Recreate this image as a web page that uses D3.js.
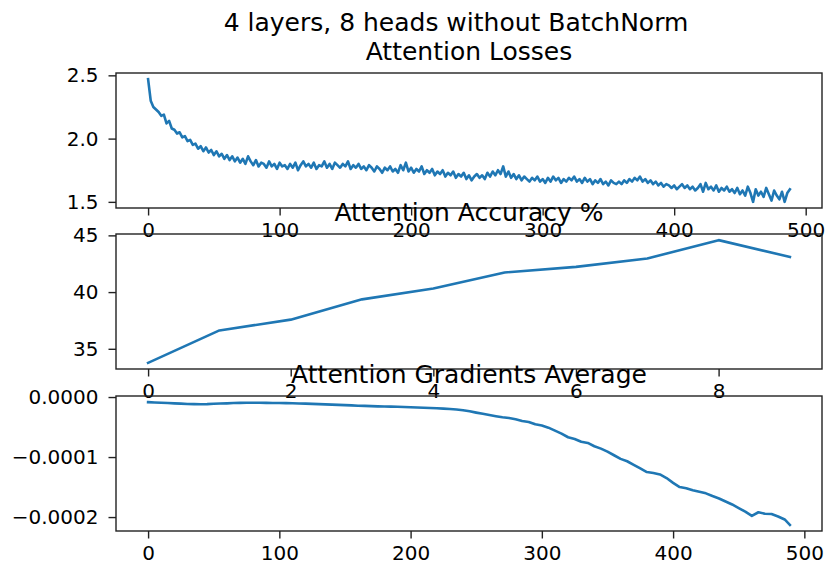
<!DOCTYPE html>
<html>
<head>
<meta charset="utf-8">
<script src="https://cdn.jsdelivr.net/npm/d3@7"></script>
<style>
  html, body { margin: 0; padding: 0; background: #fff; }
  svg text { font-family: "DejaVu Sans", sans-serif; fill: #000; }
</style>
</head>
<body>
<svg id="chart" width="825" height="567"></svg>
<script>
// ---------------- DATA ----------------
const suptitle = "4 layers, 8 heads without BatchNorm";
const panelTitles = ["Attention Losses", "Attention Accuracy %", "Attention Gradients Average"];

// Attention losses, read every 2 steps (step = index * 2)
const lossStep = 2;
const lossValues = [
  2.47, 2.30, 2.25, 2.23, 2.21, 2.18, 2.19, 2.12, 2.14, 2.08,
  2.07, 2.04, 2.05, 2.01, 2.02, 1.98, 1.99, 1.95, 1.96, 1.92,
  1.94, 1.90, 1.93, 1.89, 1.91, 1.87, 1.90, 1.86, 1.88, 1.84,
  1.87, 1.83, 1.86, 1.82, 1.85, 1.81, 1.84, 1.80, 1.86, 1.82,
  1.79, 1.83, 1.78, 1.81, 1.80, 1.77, 1.82, 1.78, 1.80, 1.76,
  1.81, 1.78, 1.79, 1.76, 1.80, 1.77, 1.81, 1.75, 1.79, 1.82,
  1.78, 1.80, 1.77, 1.81, 1.76, 1.79, 1.78, 1.82, 1.77, 1.80,
  1.76, 1.81, 1.79, 1.77, 1.80, 1.78, 1.82, 1.76, 1.79, 1.77,
  1.80, 1.76, 1.78, 1.75, 1.79, 1.77, 1.74, 1.78, 1.76, 1.73,
  1.77, 1.75, 1.78, 1.74, 1.76, 1.73, 1.79, 1.75, 1.81, 1.74,
  1.77, 1.73, 1.76, 1.74, 1.78, 1.72, 1.75, 1.73, 1.76, 1.71,
  1.74, 1.72, 1.75, 1.70, 1.73, 1.71, 1.74, 1.69, 1.72, 1.70,
  1.73, 1.68, 1.71, 1.67, 1.70, 1.72, 1.69, 1.71, 1.68, 1.73,
  1.70, 1.74, 1.71, 1.75, 1.72, 1.78, 1.70, 1.74, 1.69, 1.72,
  1.68, 1.71, 1.67, 1.70, 1.68, 1.66, 1.69, 1.67, 1.70, 1.66,
  1.68, 1.65, 1.69, 1.66, 1.70, 1.67, 1.69, 1.65, 1.68, 1.66,
  1.69, 1.67, 1.70, 1.66, 1.68, 1.65, 1.69, 1.66, 1.68, 1.64,
  1.67, 1.65, 1.68, 1.64, 1.66, 1.63, 1.67, 1.65, 1.64, 1.66,
  1.64, 1.67, 1.65, 1.68, 1.66, 1.69, 1.67, 1.70, 1.66, 1.68,
  1.65, 1.67, 1.64, 1.66, 1.63, 1.65, 1.62, 1.64, 1.63, 1.61,
  1.63, 1.60, 1.62, 1.64, 1.61, 1.63, 1.60, 1.62, 1.59, 1.61,
  1.64, 1.58, 1.65, 1.60, 1.62, 1.59, 1.63, 1.58, 1.61, 1.59,
  1.62, 1.58, 1.60, 1.57, 1.61, 1.56, 1.59, 1.55, 1.62, 1.57,
  1.50, 1.60, 1.55, 1.58, 1.54, 1.61, 1.56, 1.51, 1.59, 1.55,
  1.52, 1.58, 1.50, 1.57, 1.60
];

// Attention accuracy per epoch
const accEpochs = [0, 1, 2, 3, 4, 5, 6, 7, 8, 9];
const accValues = [33.76, 36.62, 37.57, 39.36, 40.31, 41.73, 42.22, 42.96, 44.58, 43.10];

// Attention gradients average
const gradSteps = [
  0, 5, 10, 15, 20, 25, 30, 35, 40, 45, 50, 55, 60, 65, 70, 75, 80, 85, 90, 95,
  100, 105, 110, 115, 120, 125, 130, 135, 140, 145, 150, 155, 160, 165, 170, 175, 180, 185, 190, 195,
  200, 205, 210, 215, 220, 225, 230, 235, 240, 245, 250, 255, 260, 265, 270, 275, 280, 285, 290, 295,
  300, 305, 310, 315, 320, 325, 330, 335, 340, 345, 350, 355, 360, 365, 370, 375, 380, 385, 390, 395,
  400, 405, 410, 415, 420, 425, 430, 435, 440, 445, 450, 455, 460, 465, 470, 475, 480, 485, 489
];
const gradValues = [
  -8.5e-6, -9.0e-6, -9.5e-6, -10.0e-6, -10.5e-6, -11.0e-6, -11.5e-6, -11.8e-6, -12.0e-6, -11.8e-6,
  -11.2e-6, -10.8e-6, -10.5e-6, -10.0e-6, -9.8e-6, -9.6e-6, -9.5e-6, -9.6e-6, -9.8e-6, -10.0e-6,
  -10.0e-6, -10.2e-6, -10.4e-6, -10.7e-6, -11.0e-6, -11.4e-6, -11.8e-6, -12.2e-6, -12.6e-6, -13.0e-6,
  -13.4e-6, -13.9e-6, -14.4e-6, -14.8e-6, -15.2e-6, -15.5e-6, -15.8e-6, -16.0e-6, -16.3e-6, -16.7e-6,
  -17.0e-6, -17.4e-6, -17.9e-6, -18.3e-6, -18.8e-6, -19.3e-6, -20.0e-6, -20.8e-6, -22.0e-6, -23.8e-6,
  -26.0e-6, -28.0e-6, -30.0e-6, -32.0e-6, -33.8e-6, -35.0e-6, -37.0e-6, -40.0e-6, -41.5e-6, -45.5e-6,
  -47.5e-6, -51.0e-6, -56.0e-6, -61.0e-6, -67.0e-6, -70.0e-6, -74.5e-6, -76.5e-6, -82.0e-6, -86.0e-6,
  -91.0e-6, -97.0e-6, -103.0e-6, -107.0e-6, -113.0e-6, -119.0e-6, -125.0e-6, -126.5e-6, -129.0e-6, -135.0e-6,
  -143.0e-6, -150.0e-6, -152.0e-6, -155.5e-6, -158.0e-6, -160.5e-6, -165.0e-6, -169.0e-6, -174.0e-6, -179.0e-6,
  -185.0e-6, -191.0e-6, -198.0e-6, -192.0e-6, -194.5e-6, -195.0e-6, -199.0e-6, -204.0e-6, -213.0e-6
];

// Tick values
const lossXTicks = [0, 100, 200, 300, 400, 500];
const lossYTicks = [1.5, 2.0, 2.5];
const accXTicks = [0, 2, 4, 6, 8];
const accYTicks = [35, 40, 45];
const gradXTicks = [0, 100, 200, 300, 400, 500];
const gradYTicks = [-0.0002, -0.0001, 0.0000];

// ---------------- LAYOUT ----------------
const svg = d3.select("#chart");
const left = 116, right = 822;
const W = right - left;
const H = 135;
const tops = [73, 234, 396];
const color = "#1f77b4";
const tickFont = 20;
const titleFont = 25;

function padded(ext) {
  const m = (ext[1] - ext[0]) * 0.05;
  return [ext[0] - m, ext[1] + m];
}

function panel(idx, xs, ys, xTicks, yTicks, yFmt) {
  const g = svg.append("g").attr("transform", `translate(${left},${tops[idx]})`);
  const x = d3.scaleLinear().domain(padded(d3.extent(xs))).range([0, W]);
  const y = d3.scaleLinear().domain(padded(d3.extent(ys))).range([H, 0]);

  const line = d3.line().x(d => x(d[0])).y(d => y(d[1]));
  g.append("path")
    .datum(xs.map((v, i) => [v, ys[i]]))
    .attr("d", line)
    .attr("fill", "none")
    .attr("stroke", color)
    .attr("stroke-width", 2.6)
    .attr("stroke-linejoin", "round")
    .attr("stroke-linecap", "square");

  const xa = g.append("g").attr("transform", `translate(0,${H})`)
    .call(d3.axisBottom(x).tickValues(xTicks).tickFormat(d3.format("d")).tickSize(7.5).tickPadding(7.5));
  const ya = g.append("g")
    .call(d3.axisLeft(y).tickValues(yTicks).tickFormat(yFmt).tickSize(7.5).tickPadding(10));
  [xa, ya].forEach(a => {
    a.select(".domain").remove();
    a.selectAll(".tick line").attr("stroke", "#222").attr("stroke-width", 1.4);
    a.selectAll(".tick text").attr("font-size", tickFont).style("font-family", "DejaVu Sans").attr("fill", "#111");
  });

  g.append("rect").attr("x", 0).attr("y", 0).attr("width", W).attr("height", H)
    .attr("fill", "none").attr("stroke", "#222").attr("stroke-width", 1.4);

  g.append("text")
    .attr("x", W / 2).attr("y", -13)
    .attr("text-anchor", "middle")
    .attr("font-size", titleFont)
    .attr("fill", "#111")
    .text(panelTitles[idx]);
  return g;
}

panel(0, lossValues.map((v, i) => i * lossStep), lossValues, lossXTicks, lossYTicks, d3.format(".1f"));
panel(1, accEpochs, accValues, accXTicks, accYTicks, d3.format("d"));
panel(2, gradSteps, gradValues, gradXTicks, gradYTicks, d3.format(".4f"));

svg.append("text")
  .attr("x", 456).attr("y", 31)
  .attr("text-anchor", "middle")
  .attr("font-size", titleFont)
  .attr("fill", "#111")
  .text(suptitle);
</script>
</body>
</html>
